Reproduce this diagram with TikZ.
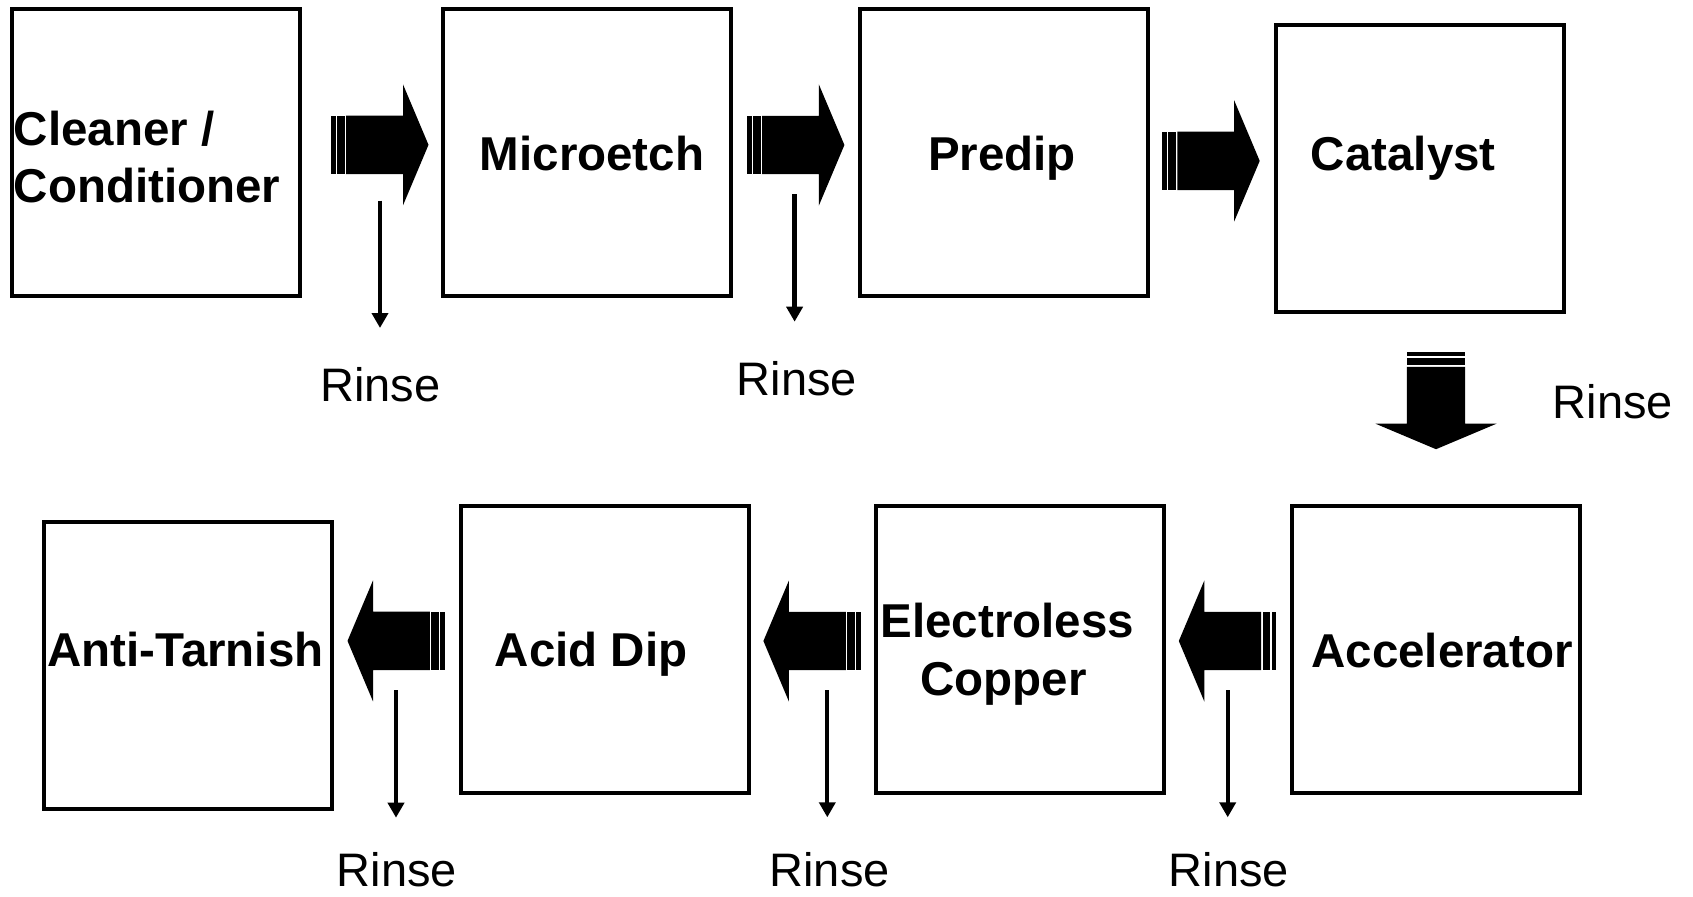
\documentclass[tikz,border=0pt]{standalone}
\usepackage{fontspec}
\setmainfont{Liberation Sans}
\usetikzlibrary{arrows.meta}
\newcommand\lblfont{\fontsize{47.5}{57}\selectfont\bfseries}
\newcommand\rnsfont{\fontsize{47}{56}\selectfont}
\tikzset{
  stepbox/.style={draw=black, line width=4pt, minimum width=287.6pt, minimum height=287pt, inner sep=0pt},
  lbl/.style={font=\lblfont, inner sep=0pt, anchor=base},
  rns/.style={font=\rnsfont, inner sep=0pt, anchor=base},
  rinsearrow/.style={line width=4.3pt, -{Triangle[length=15pt,width=16pt]}},
  blockarrow/.pic={
    \fill[black] (0,-29.2) rectangle (4.7,29.2);
    \fill[black] (6.1,-29.2) rectangle (13.7,29.2);
    \fill[black] (15.1,-29.2) -- (72,-29.2) -- (72,-60.5) -- (97.5,0) -- (72,60.5) -- (72,29.2) -- (15.1,29.2) -- cycle;
  }
}
\begin{document}
\begin{tikzpicture}[x=1pt,y=-1pt]
\useasboundingbox (0,0) rectangle (1693,896);

% boxes
\node[stepbox] (b1) at (155.85,152.75) {};
\node[stepbox] (b2) at (587.25,152.75) {};
\node[stepbox] (b3) at (1003.75,152.75) {};
\node[stepbox] (b4) at (1419.85,168.65) {};
\node[stepbox] (b5) at (187.9,665) {};
\node[stepbox] (b6) at (604.75,649.1) {};
\node[stepbox] (b7) at (1019.75,649.1) {};
\node[stepbox] (b8) at (1435.75,649.1) {};

% labels
\node[lbl, anchor=base west] (t1a) at (13.6,145.7) {Cleaner /};
\node[lbl, anchor=base west] (t1b) at (13.6,202) {Conditioner};
\node[lbl] (t2) at (592,170.5) {Microetch};
\node[lbl] (t3) at (1002,171) {Predip};
\node[lbl] (t4) at (1403.3,171) {Catalyst};
\node[lbl] (t5) at (185.5,666.7) {Anti-Tarnish};
\node[lbl] (t6) at (591.2,666.7) {Acid Dip};
\node[lbl] (t7a) at (1007.3,637.3) {Electroless};
\node[lbl] (t7b) at (1003.4,695) {Copper};
\node[lbl] (t8) at (1442,667) {Accelerator};

% block arrows
\pic at (331,144.85) {blockarrow};
\pic at (746.9,145) {blockarrow};
\pic at (1162.2,160.9) {blockarrow};
\pic[rotate=-90] at (1436,351.7) {blockarrow};
\pic[rotate=180] at (445,640.9) {blockarrow};
\pic[rotate=180] at (860.9,641) {blockarrow};
\pic[rotate=180] at (1276.3,641) {blockarrow};

% rinse arrows
\coordinate (s1) at (380,200.7);   \coordinate (e1) at (380,328);
\coordinate (s2) at (794.6,194.3); \coordinate (e2) at (794.6,321.7);
\coordinate (s4) at (396,690);     \coordinate (e4) at (396,817.7);
\coordinate (s5) at (827.3,690);   \coordinate (e5) at (827.3,817.3);
\coordinate (s6) at (1227.7,690);  \coordinate (e6) at (1227.7,817.3);
\draw[rinsearrow] (s1) -- (e1);
\draw[rinsearrow] (s2) -- (e2);
\draw[rinsearrow] (s4) -- (e4);
\draw[rinsearrow] (s5) -- (e5);
\draw[rinsearrow] (s6) -- (e6);

% rinse labels
\node[rns] (r1) at (380.3,401.7) {Rinse};
\node[rns] (r2) at (797,395) {Rinse};
\node[rns] (r3) at (1613,418) {Rinse};
\node[rns] (r4) at (397,886) {Rinse};
\node[rns] (r5) at (829.7,886) {Rinse};
\node[rns] (r6) at (1229,886) {Rinse};
\end{tikzpicture}
\end{document}
